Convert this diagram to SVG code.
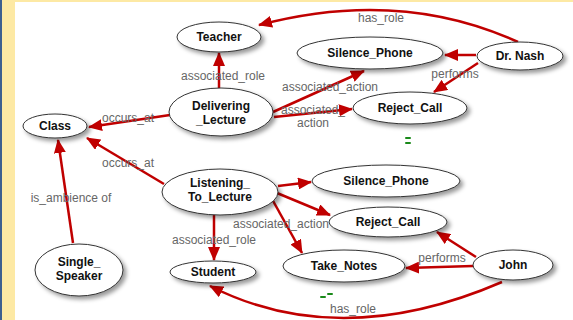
<svg xmlns="http://www.w3.org/2000/svg" width="573" height="320" viewBox="0 0 573 320">
<style>
.n ellipse{fill:#fff;stroke:#333;stroke-width:1;filter:url(#sh)}
.n text{font-family:"Liberation Sans",Arial,sans-serif;font-weight:bold;font-size:12px;fill:#111;text-anchor:middle}
.e path{fill:none;stroke:#c00000;stroke-width:2.5;marker-end:url(#ah)}
.l{font-family:"Liberation Sans",Arial,sans-serif;font-size:12px;fill:#666;text-anchor:middle}
.g{stroke:#1a8a1a;stroke-width:2;stroke-linecap:round}
</style>
<defs>
<filter id="sh" x="-20%" y="-30%" width="150%" height="180%">
<feDropShadow dx="3" dy="3" stdDeviation="2" flood-color="#000" flood-opacity="0.4"/>
</filter>
<marker id="ah" markerUnits="userSpaceOnUse" markerWidth="14" markerHeight="12" refX="13" refY="6" orient="auto">
<path d="M0,0 L14,6 L0,12 Z" fill="#c00000"/>
</marker>
</defs>
<rect x="0" y="0" width="573" height="320" fill="#fff"/>
<rect x="0" y="0" width="573" height="2" fill="#fde9a4"/>
<rect x="0" y="0" width="15" height="320" fill="#fde9a4"/>
<rect x="0" y="0" width="2" height="320" fill="#3d5f8f"/>

<g id="connectors" class="e">
<path d="M518,42 Q400,-12 259,25"/>
<path d="M476,55 L445,55"/>
<path d="M478,63 L434,92"/>
<path d="M219,88 L219,53"/>
<path d="M273,112 L364,71"/>
<path d="M274,117 L352,109"/>
<path d="M170,115 L89,127"/>
<path d="M164,184 L87,138"/>
<path d="M73,243 L58,140"/>
<path d="M214,215 L214,260"/>
<path d="M278,186 L311,182"/>
<path d="M277,193 L330,215"/>
<path d="M272,199 L302,253"/>
<path d="M476,257 L437,232"/>
<path d="M473,266 L406,268"/>
<path d="M502,282 Q340,352 210,286"/>
</g>

<g id="labels">
<text class="l" x="381" y="22">has_role</text>
<text class="l" x="455" y="78">performs</text>
<text class="l" x="223" y="80">associated_role</text>
<text class="l" x="330" y="91">associated_action</text>
<text class="l" x="313" y="114">associated_</text>
<text class="l" x="313" y="127">action</text>
<text class="l" x="128" y="122">occurs_at</text>
<text class="l" x="128" y="167">occurs_at</text>
<text class="l" x="71" y="202">is_ambience of</text>
<text class="l" x="214" y="244">associated_role</text>
<text class="l" x="281" y="228">associated_action</text>
<text class="l" x="442" y="262">performs</text>
<text class="l" x="353" y="313">has_role</text>
</g>

<g id="n-teacher" class="n"><ellipse cx="219" cy="37" rx="42" ry="15"/><text x="219" y="41">Teacher</text></g>
<g id="n-silence1" class="n"><ellipse cx="370" cy="53" rx="73" ry="16"/><text x="370" y="57">Silence_Phone</text></g>
<g id="n-drnash" class="n"><ellipse cx="520" cy="56" rx="43" ry="14"/><text x="520" y="60">Dr. Nash</text></g>
<g id="n-reject1" class="n"><ellipse cx="410" cy="108" rx="57" ry="16"/><text x="410" y="112">Reject_Call</text></g>
<g id="n-delivering" class="n"><ellipse cx="221" cy="112" rx="52" ry="24"/><text x="221" y="110">Delivering</text><text x="221" y="124">_Lecture</text></g>
<g id="n-class" class="n"><ellipse cx="55" cy="126" rx="32" ry="12"/><text x="55" y="130">Class</text></g>
<g id="n-listening" class="n"><ellipse cx="220" cy="192" rx="58" ry="23"/><text x="220" y="187">Listening_</text><text x="220" y="201">To_Lecture</text></g>
<g id="n-silence2" class="n"><ellipse cx="386" cy="181" rx="74" ry="16"/><text x="386" y="185">Silence_Phone</text></g>
<g id="n-reject2" class="n"><ellipse cx="388" cy="222" rx="59" ry="15"/><text x="388" y="226">Reject_Call</text></g>
<g id="n-takenotes" class="n"><ellipse cx="344" cy="266" rx="61" ry="16"/><text x="344" y="270">Take_Notes</text></g>
<g id="n-john" class="n"><ellipse cx="513" cy="265" rx="40" ry="15"/><text x="513" y="269">John</text></g>
<g id="n-student" class="n"><ellipse cx="213" cy="272" rx="43" ry="11"/><text x="213" y="276">Student</text></g>
<g id="n-single" class="n"><ellipse cx="79" cy="270" rx="44" ry="26"/><text x="79" y="266">Single_</text><text x="79" y="280">Speaker</text></g>

<g id="marks">
<line class="g" x1="406" y1="138" x2="410" y2="138"/>
<line class="g" x1="406" y1="143" x2="410" y2="143"/>
<line class="g" x1="321" y1="297" x2="325" y2="297"/>
<line class="g" x1="328" y1="294" x2="332" y2="294"/>
</g>
</svg>
